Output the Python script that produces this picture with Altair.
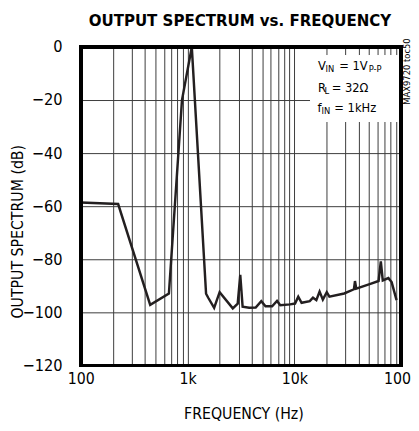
import altair as alt
import pandas as pd

# ---- data ----
freq_hz = [100, 224, 447, 669, 887, 1096, 1491, 1562, 1774, 1997, 2652, 2949,
           3115, 3278, 3771, 4345, 4902, 5370, 6190, 6883, 7380, 9124, 10142,
           10877, 11688, 13937, 14945, 16066, 17226, 18477, 20107, 21292, 29256,
           36150, 36940, 37970, 51510, 61420, 64480, 67270, 75920, 81400, 90510]
spectrum_db = [-58.6, -59.2, -97.2, -92.9, -20.0, 0.0, -93.0, -94.5, -98.3, -92.4,
               -98.5, -96.7, -85.9, -97.9, -98.3, -98.2, -95.8, -97.7, -97.7, -95.7,
               -97.3, -97.0, -96.7, -94.1, -96.4, -95.8, -94.5, -95.4, -92.2, -95.2,
               -92.4, -94.1, -92.9, -91.3, -88.2, -91.1, -89.3, -88.2, -80.8, -88.0,
               -87.1, -88.6, -95.4]

x_grid = [100, 200, 300, 400, 500, 600, 700, 800, 900,
          1000, 2000, 3000, 4000, 5000, 6000, 7000, 8000, 9000,
          10000, 20000, 30000, 40000, 50000, 60000, 70000, 80000, 90000, 100000]
y_ticks = [0, -20, -40, -60, -80, -100, -120]

W, H = 326, 324
FONT = "DejaVu Sans Condensed, Liberation Sans Narrow, Arial Narrow, sans-serif"

df = pd.DataFrame({"freq": freq_hz, "db": spectrum_db})
df["i"] = range(len(df))

x_scale = alt.Scale(type="log", domain=[100, 100000], nice=False)
y_scale = alt.Scale(domain=[-120, 0], nice=False)

label_expr = ("datum.value == 100 ? '100' : datum.value == 1000 ? '1k' : "
              "datum.value == 10000 ? '10k' : datum.value == 100000 ? '100k' : ''")

base = alt.Chart(df)

line = base.mark_line(color="#231f20", strokeWidth=2.5, strokeJoin="miter").encode(
    x=alt.X("freq:Q", scale=x_scale,
            axis=alt.Axis(values=x_grid, labelExpr=label_expr, title=None,
                          grid=True, gridColor="#3a3a3a", gridWidth=1, gridOpacity=1,
                          ticks=False, domain=False, labelPadding=5, labelFontSize=16,
                          labelFont=FONT, labelColor="black", labelFlush=False,
                          labelOverlap=False)),
    y=alt.Y("db:Q", scale=y_scale,
            axis=alt.Axis(values=y_ticks, title=None,
                          grid=True, gridColor="#3a3a3a", gridWidth=1, gridOpacity=1,
                          ticks=False, domain=False, labelPadding=19, labelFontSize=16.5,
                          labelFont=FONT, labelColor="black", labelFlush=False)),
    order="i:Q",
)

box = base.mark_rect(fill="white", stroke=None).encode(
    x=alt.value(234), x2=alt.value(324), y=alt.value(9), y2=alt.value(76)
)

border = base.mark_rect(fill=None, stroke="black", strokeWidth=3).encode(
    x=alt.value(0), x2=alt.value(W), y=alt.value(0), y2=alt.value(H)
)

def txt(s, x, y, size=13, align="left", weight="normal", baseline="alphabetic", angle=0):
    return alt.Chart(pd.DataFrame({"t": [s]})).mark_text(
        font=FONT, fontSize=size, color="black", align=align, fontWeight=weight,
        baseline=baseline, angle=angle
    ).encode(text="t:N", x=alt.value(x), y=alt.value(y))

ann = [
    txt("V", 241.3, 23.7), txt("IN", 249, 25.5, 9.5), txt("= 1V", 263, 23.7),
    txt("P-P", 293, 25.5, 9.5),
    txt("R", 241.3, 46), txt("L", 248, 48, 9.5), txt("= 32Ω", 255.3, 46),
    txt("f", 241, 66), txt("IN", 245, 68, 9.5), txt("= 1kHz", 258, 66),
]

title = txt("OUTPUT SPECTRUM vs. FREQUENCY", 162, -21.5, 17, align="center", weight="bold")
x_title = txt("FREQUENCY (Hz)", 166, 374, 16, align="center", baseline="middle")
y_title = txt("OUTPUT SPECTRUM (dB)", -63.5, 188, 16, align="center", baseline="middle", angle=270)
side = txt("MAX9720 toc50", 332.3, 25, 9.5, align="center", baseline="middle", angle=270)

chart = alt.layer(box, line, border, *ann, title, x_title, y_title, side).properties(
    width=W, height=H,
    autosize=alt.AutoSizeParams(type="none"),
    padding={"left": 74, "top": 36, "right": 10, "bottom": 58},
).configure_view(stroke=None)

chart.save("out.html", embed_options={"renderer": "svg", "actions": False})
